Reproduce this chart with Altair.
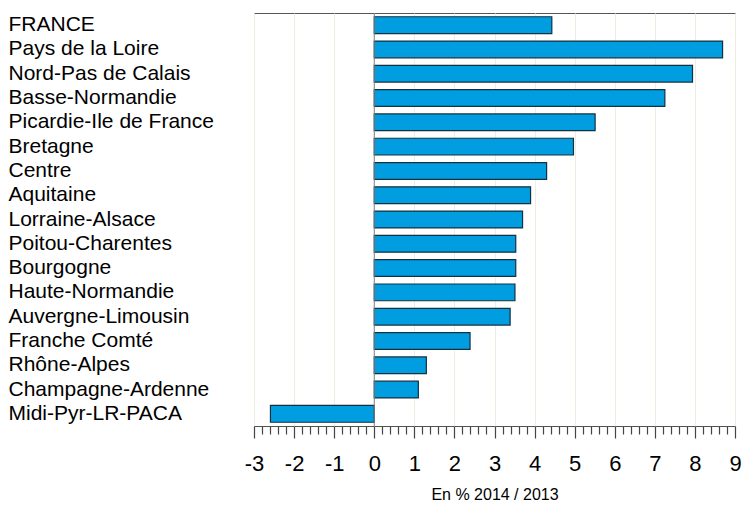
import altair as alt
import pandas as pd

regions = ["FRANCE", "Pays de la Loire", "Nord-Pas de Calais", "Basse-Normandie",
           "Picardie-Ile de France", "Bretagne", "Centre", "Aquitaine",
           "Lorraine-Alsace", "Poitou-Charentes", "Bourgogne", "Haute-Normandie",
           "Auvergne-Limousin", "Franche Comté", "Rhône-Alpes",
           "Champagne-Ardenne", "Midi-Pyr-LR-PACA"]
values = [4.43, 8.69, 7.94, 7.25, 5.51, 4.97, 4.30, 3.90, 3.70, 3.53, 3.53,
          3.51, 3.39, 2.39, 1.30, 1.10, -2.59]
tick_values = [round(-3 + 0.2 * i, 1) for i in range(61)]
zero_line = [0]

df = pd.DataFrame({"region": regions, "value": values})
zdf = pd.DataFrame({"z": zero_line})

FONT = "Liberation Sans"
IS_INT = "abs(datum.value - round(datum.value)) < 0.001"
xscale = alt.Scale(domain=[-3, 9], nice=False, zero=False)

xaxis = alt.Axis(values=tick_values, title="En % 2014 / 2013",
                 tickSize={"condition": {"test": IS_INT, "value": 12}, "value": 8},
                 tickColor="#444444", tickWidth=1.2, tickRound=True,
                 labelExpr=IS_INT + " ? '' + round(datum.value) : ''",
                 labelOverlap=False, labelFlush=False,
                 labelPadding=15, labelFontSize=22, labelFont=FONT,
                 labelColor="black",
                 grid=True, gridColor="#eeeddf", gridWidth=1,
                 gridOpacity={"condition": {"test": IS_INT, "value": 1}, "value": 0},
                 domain=False, orient="bottom",
                 titleFont=FONT, titleFontSize=16,
                 titleFontWeight="normal", titleColor="black",
                 titlePadding=12)

bars = alt.Chart(df).mark_bar(
    color="#009ee0", stroke="#15303f", strokeWidth=1.2
).encode(
    x=alt.X("value:Q", scale=xscale, axis=xaxis, title="En % 2014 / 2013"),
    y=alt.Y("region:N", sort=regions,
            scale=alt.Scale(paddingInner=0.31, paddingOuter=0.155),
            axis=alt.Axis(title=None, labelAlign="left", labelPadding=246,
                          ticks=False, domain=False, labelFontSize=21,
                          labelFont=FONT, labelColor="black", labelLimit=0,
                          labelBaseline="middle"))
)

zero = alt.Chart(zdf).mark_rule(color="#808080", strokeWidth=1).encode(
    x=alt.X("z:Q", scale=xscale, axis=xaxis, title="En % 2014 / 2013")
)

chart = alt.layer(bars, zero).properties(
    width=481, height=413,
    padding={"left": 0, "top": 4, "right": 0, "bottom": 0}
).configure_view(stroke="#555555", strokeWidth=1)

chart.save("out.html", embed_options={"renderer": "svg", "actions": False})
